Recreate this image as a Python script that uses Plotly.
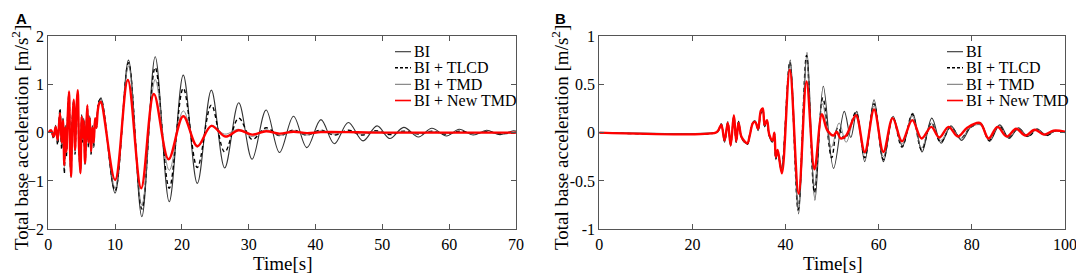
import plotly.graph_objects as go

# ---------------- Panel A data (time [s], acceleration [m/s^2]) ----------------
a_bi_t = [0, 0.4, 0.8, 1.1, 1.4, 1.75, 2.0, 2.2, 2.4, 2.55, 2.7, 2.9, 3.1, 3.25, 3.4, 3.6, 3.8, 4.0, 4.2, 4.4,
          4.6, 4.8, 5.0, 5.15, 5.3, 5.5, 5.7, 5.85, 6.0, 6.2, 6.4, 6.6, 6.8, 7.0, 7.2, 7.4, 7.6,
          7.9, 10.0, 12.0, 14.0, 16.0, 18.1, 20.2, 22.3, 24.4, 26.4, 28.5, 30.5, 32.6, 34.6, 36.7, 38.7,
          40.8, 42.8, 44.9, 47.1, 49.2, 51.1, 53.2, 55.4, 57.4, 59.6, 61.5, 63.6, 65.6, 67.6, 69.6, 70.0]
a_bi_y = [0, 0.03, -0.1, 0.15, -0.2, 0.45, -0.3, 0.3, -0.6, 0.15, -0.45, 0.35, 0.8, -0.35, -0.93, 0.25, 0.62, -0.4, 0.5, 0.85,
          -0.35, -0.8, 0.38, -0.15, 0.3, -0.6, 0.2, 0.52, -0.25, 0.35, -0.42, 0.15, -0.25, 0.25, 0.15, 0.5, 0.65,
          0.72, -1.25, 1.5, -1.74, 1.57, -1.43, 1.19, -1.05, 0.88, -0.73, 0.62, -0.55, 0.47, -0.41, 0.34, -0.31,
          0.27, -0.23, 0.21, -0.17, 0.14, -0.12, 0.11, -0.09, 0.09, -0.07, 0.07, -0.05, 0.05, -0.04, 0.04, 0.03]

a_tlcd_t = [0, 0.4, 0.8, 1.1, 1.4, 1.75, 2.0, 2.2, 2.4, 2.55, 2.7, 2.9, 3.1, 3.25, 3.4, 3.6, 3.8, 4.0, 4.2, 4.4,
            4.6, 4.8, 5.0, 5.15, 5.3, 5.5, 5.7, 5.85, 6.0, 6.2, 6.4, 6.6, 6.8, 7.0, 7.2, 7.4, 7.6,
            7.9, 10.0, 12.0, 14.0, 16.0, 18.1, 20.2, 22.3, 24.4, 26.4, 28.5, 30.5, 32.6, 34.6, 36.7, 38.7,
            40.8, 42.8, 44.9, 46.9, 49.0, 51.1, 53.2, 55.4, 57.4, 59.6, 61.5, 63.6, 65.6, 67.6, 70.0]
a_tlcd_y = [0, 0.04, -0.12, 0.1, -0.25, 0.5, -0.35, 0.28, -0.85, 0.12, -0.5, 0.4, 0.82, -0.4, -0.9, 0.3, 0.65, -0.45, 0.42, 0.8,
            -0.4, -0.78, 0.35, -0.2, 0.28, -0.65, 0.18, 0.5, -0.3, 0.32, -0.45, 0.12, -0.3, 0.28, 0.1, 0.48, 0.66,
            0.7, -1.2, 1.45, -1.58, 1.35, -1.15, 0.92, -0.72, 0.57, -0.4, 0.3, -0.14, 0.1, -0.06, 0.05, -0.05,
            0.05, -0.05, 0.05, -0.05, 0.04, -0.04, 0.03, -0.03, 0.03, -0.03, 0.03, -0.02, 0.02, -0.02, 0.0]

a_tmd_t = [0, 0.4, 0.8, 1.1, 1.4, 1.75, 2.0, 2.2, 2.4, 2.55, 2.7, 2.9, 3.1, 3.25, 3.4, 3.6, 3.8, 4.0, 4.2, 4.4,
           4.6, 4.8, 5.0, 5.15, 5.3, 5.5, 5.7, 5.85, 6.0, 6.2, 6.4, 6.6, 6.8, 7.0, 7.2, 7.4, 7.6,
           7.9, 10.0, 12.0, 14.0, 16.0, 18.1, 20.2, 22.3, 24.4, 26.4, 28.5, 30.5, 32.6, 34.6, 36.7, 38.7,
           40.8, 42.8, 44.9, 46.9, 49.0, 51.1, 53.2, 55.4, 57.4, 59.6, 61.5, 63.6, 65.6, 67.6, 70.0]
a_tmd_y = [0, 0.02, -0.08, 0.12, -0.18, 0.42, -0.25, 0.27, -0.7, 0.1, -0.42, 0.32, 0.83, -0.32, -0.9, 0.22, 0.66, -0.38, 0.46, 0.86,
           -0.32, -0.82, 0.34, -0.12, 0.27, -0.62, 0.17, 0.55, -0.22, 0.32, -0.4, 0.12, -0.22, 0.28, 0.12, 0.47, 0.62,
           0.7, -1.15, 1.38, -1.5, 1.1, -0.78, 0.45, -0.3, 0.15, -0.03, 0.07, -0.08, 0.06, -0.06, 0.04, -0.05,
           0.04, -0.03, 0.03, -0.03, 0.03, -0.02, 0.02, -0.02, 0.02, -0.02, 0.01, -0.01, 0.01, -0.01, 0.0]

a_new_t = [0, 0.4, 0.8, 1.1, 1.4, 1.75, 2.0, 2.2, 2.4, 2.55, 2.7, 2.9, 3.1, 3.25, 3.4, 3.6, 3.8, 4.0, 4.2, 4.4,
           4.6, 4.8, 5.0, 5.15, 5.3, 5.5, 5.7, 5.85, 6.0, 6.2, 6.4, 6.6, 6.8, 7.0, 7.2, 7.4, 7.6,
           7.85, 10.0, 11.9, 13.9, 15.8, 18.0, 20.2, 22.3, 24.4, 26.5, 28.5, 30.5, 32.6, 34.6, 36.7, 38.7,
           40.8, 44.9, 49.0, 55.0, 62.0, 70.0]
a_new_y = [0, 0.05, -0.08, 0.12, -0.15, 0.4, -0.2, 0.25, -0.67, 0.1, -0.39, 0.3, 0.85, -0.3, -0.91, 0.2, 0.68, -0.35, 0.45, 0.88,
           -0.3, -0.84, 0.33, -0.1, 0.25, -0.63, 0.15, 0.57, -0.2, 0.3, -0.39, 0.1, -0.2, 0.3, 0.1, 0.45, 0.6,
           0.64, -0.98, 1.09, -1.15, 0.8, -0.55, 0.34, -0.28, 0.14, -0.08, 0.05, -0.04, 0.03, -0.02, 0.02, -0.01,
           0.01, 0.01, 0.0, 0.0, 0.0, 0.0]

# ---------------- Panel B data ----------------
b_new_t = [0, 25.0, 25.5, 26.2, 26.9, 27.6, 28.2, 28.9, 29.4, 29.9, 30.5, 31.2, 31.8, 32.3, 33.0, 33.5, 34.1, 34.7,
           35.1, 35.5, 36.0, 36.5, 37.2, 37.6, 37.9, 38.3, 39.2, 40.9, 42.8, 44.5, 46.2, 47.8, 48.9, 50.3, 51.0,
           51.8, 53.0, 55.1, 57.0, 59.0, 61.0, 63.0, 65.0, 67.2, 69.2, 71.3, 73.0, 75.0, 77.0, 79.0, 81.7, 83.6,
           85.5, 87.5, 89.5, 91.5, 93.5, 95.5, 97.5, 100.0]
b_new_y = [0, 0, 0.02, 0.08, -0.08, 0.1, -0.13, 0.18, -0.09, 0.1, -0.04, -0.09, -0.11, -0.03, 0.1, 0.11, 0.04, 0.23,
           0.25, 0.08, 0.13, -0.02, -0.08, 0.0, -0.25, -0.18, -0.42, 0.65, -0.63, 0.53, -0.38, 0.19, 0.03, -0.03, 0.01,
           -0.06, -0.03, 0.18, -0.2, 0.24, -0.2, 0.15, -0.09, 0.13, -0.06, 0.06, -0.05, 0.06, -0.04, 0.05, 0.1, -0.06,
           0.06, -0.04, 0.04, -0.03, 0.03, -0.02, 0.02, 0.01]

b_bi_t = [0, 25.0, 25.5, 26.2, 26.9, 27.6, 28.2, 28.9, 29.4, 29.9, 30.5, 31.2, 31.8, 32.3, 33.0, 33.5, 34.1, 34.7,
          35.1, 35.5, 36.0, 36.5, 37.2, 37.6, 37.9, 38.3, 39.1, 41.0, 42.8, 44.6, 46.3, 48.1, 50.3, 52.6, 54.0,
          55.3, 57.0, 59.0, 61.0, 63.1, 65.1, 67.3, 69.3, 71.4, 73.4, 75.5, 77.8, 79.8, 81.9, 83.8, 86.0, 88.0,
          90.0, 92.0, 94.0, 96.0, 98.0, 100.0]
b_bi_y = [0, 0, 0.01, 0.07, -0.1, 0.09, -0.14, 0.16, -0.1, 0.12, -0.05, -0.1, -0.12, -0.04, 0.11, 0.12, 0.02, 0.2,
          0.22, 0.06, 0.12, -0.04, -0.1, -0.02, -0.28, -0.2, -0.37, 0.75, -0.84, 0.83, -0.7, 0.48, -0.37, 0.22, -0.05,
          0.22, -0.3, 0.34, -0.3, 0.17, -0.14, 0.2, -0.2, 0.15, -0.11, 0.07, -0.08, 0.06, 0.1, -0.09, 0.08, -0.06,
          0.05, -0.04, 0.04, -0.03, 0.02, 0.0]

b_tlcd_t = [0, 25.0, 25.5, 26.2, 26.9, 27.6, 28.2, 28.9, 29.4, 29.9, 30.5, 31.2, 31.8, 32.3, 33.0, 33.5, 34.1, 34.7,
            35.1, 35.5, 36.0, 36.5, 37.2, 37.6, 37.9, 38.3, 39.1, 40.9, 42.7, 44.5, 46.2, 48.0, 49.9, 51.2, 52.8,
            55.1, 57.0, 59.0, 61.0, 63.0, 65.0, 67.2, 69.2, 71.3, 73.3, 75.5, 77.6, 79.6, 81.8, 83.7, 85.8, 87.8,
            90.0, 92.0, 94.0, 96.0, 98.0, 100.0]
b_tlcd_y = [0, 0, 0.02, 0.09, -0.09, 0.11, -0.12, 0.17, -0.1, 0.11, -0.05, -0.1, -0.12, -0.02, 0.1, 0.12, 0.03, 0.21,
            0.24, 0.07, 0.12, -0.03, -0.09, -0.01, -0.27, -0.2, -0.38, 0.73, -0.8, 0.8, -0.62, 0.36, -0.26, 0.05, -0.06,
            0.21, -0.26, 0.3, -0.28, 0.16, -0.15, 0.19, -0.18, 0.1, -0.1, 0.06, -0.06, 0.05, 0.09, -0.08, 0.07, -0.05,
            0.04, -0.04, 0.03, -0.03, 0.02, 0.0]

b_tmd_t = [0, 25.0, 25.5, 26.2, 26.9, 27.6, 28.2, 28.9, 29.4, 29.9, 30.5, 31.2, 31.8, 32.3, 33.0, 33.5, 34.1, 34.7,
           35.1, 35.5, 36.0, 36.5, 37.2, 37.6, 37.9, 38.3, 39.1, 40.9, 42.7, 44.5, 46.2, 47.9, 49.8, 51.5, 53.0,
           55.0, 57.0, 59.0, 61.0, 63.0, 65.0, 67.2, 69.2, 71.3, 73.3, 75.5, 77.6, 79.6, 81.8, 83.7, 85.8, 87.8,
           90.0, 92.0, 94.0, 96.0, 98.0, 100.0]
b_tmd_y = [0, 0, 0.01, 0.08, -0.09, 0.1, -0.13, 0.17, -0.09, 0.11, -0.04, -0.1, -0.11, -0.03, 0.1, 0.11, 0.03, 0.22,
           0.23, 0.07, 0.13, -0.02, -0.09, 0.0, -0.26, -0.19, -0.4, 0.72, -0.78, 0.75, -0.55, 0.3, -0.15, 0.1, -0.1,
           0.18, -0.22, 0.28, -0.25, 0.15, -0.12, 0.17, -0.16, 0.1, -0.08, 0.06, -0.06, 0.05, 0.08, -0.07, 0.06, -0.05,
           0.04, -0.03, 0.03, -0.02, 0.02, 0.0]

series_names = ["BI", "BI + TLCD", "BI + TMD", "BI + New TMD"]
a_x_ticks = [0, 10, 20, 30, 40, 50, 60, 70]
a_y_ticks = [-2, -1, 0, 1, 2]
b_x_ticks = [0, 20, 40, 60, 80, 100]
b_y_ticks = [-1, -0.5, 0, 0.5, 1]
b_y_ticklabels = ["-1", "-0.5", "0", "0.5", "1"]

styles = [
    dict(color="#333333", width=1.1, dash="solid"),
    dict(color="#000000", width=1.4, dash="4px,3px"),
    dict(color="#6e6e6e", width=0.8, dash="solid"),
    dict(color="#ff0000", width=2.4, dash="solid"),
]

fig = go.Figure()
panelA = [(a_bi_t, a_bi_y), (a_tlcd_t, a_tlcd_y), (a_tmd_t, a_tmd_y), (a_new_t, a_new_y)]
panelB = [(b_bi_t, b_bi_y), (b_tlcd_t, b_tlcd_y), (b_tmd_t, b_tmd_y), (b_new_t, b_new_y)]
for (t, y), name, st in zip(panelA, series_names, styles):
    fig.add_trace(go.Scatter(x=t, y=y, mode="lines", name=name, showlegend=False,
                             line=dict(shape="spline", smoothing=1.0, **st), xaxis="x", yaxis="y"))
for (t, y), name, st in zip(panelB, series_names, styles):
    fig.add_trace(go.Scatter(x=t, y=y, mode="lines", name=name, showlegend=False,
                             line=dict(shape="spline", smoothing=1.0, **st), xaxis="x2", yaxis="y2"))

# The page adds an 8 px body margin; the figure is sized and placed to compensate.
OFF = 8
W, H = 1084 - OFF, 276 - OFF


def px(xp):
    return (xp - OFF) / W


def py(yp):
    return 1 - (yp - OFF) / H


ydom = [py(229.3), py(36)]
serif = "Liberation Serif, Times New Roman, serif"
axis_common = dict(showline=True, linecolor="#555555", linewidth=1, mirror="ticks", ticks="inside",
                   ticklen=5, tickcolor="#555555", showgrid=False, zeroline=False,
                   tickfont=dict(family=serif, size=16, color="#000"), automargin=False)

fig.update_layout(
    width=W, height=H, margin=dict(l=0, r=0, t=0, b=0),
    paper_bgcolor="white", plot_bgcolor="white", showlegend=False,
    xaxis=dict(domain=[px(48.3), px(516)], range=[0, 70], tickvals=a_x_ticks, anchor="y", **axis_common),
    yaxis=dict(domain=ydom, range=[-2, 2], tickvals=a_y_ticks, anchor="x", **axis_common),
    xaxis2=dict(domain=[px(599.3), px(1065)], range=[0, 100], tickvals=b_x_ticks, anchor="y2", **axis_common),
    yaxis2=dict(domain=ydom, range=[-1, 1], tickvals=b_y_ticks, ticktext=b_y_ticklabels, anchor="x2", **axis_common),
)

title_font = dict(family=serif, size=19, color="#000")
# axis titles
for xc in (282, 832):
    fig.add_annotation(text="Time[s]", x=px(xc), y=py(263), xref="paper", yref="paper", xanchor="center",
                       yanchor="middle", showarrow=False, font=title_font)
for xc in (20, 560):
    fig.add_annotation(text="Total base acceleration [m/s<sup>2</sup>]", x=px(xc), y=py(138), xref="paper",
                       yref="paper", xanchor="center", yanchor="middle", textangle=-90, showarrow=False,
                       font=title_font)

# panel letters
letter_font = dict(family="Liberation Sans, Arial", size=15, color="#000")
fig.add_annotation(text="<b>A</b>", x=px(14), y=py(8), xref="paper", yref="paper", xanchor="left", yanchor="top",
                   showarrow=False, font=letter_font)
fig.add_annotation(text="<b>B</b>", x=px(553), y=py(8), xref="paper", yref="paper", xanchor="left", yanchor="top",
                   showarrow=False, font=letter_font)

# custom legends (drawn in paper coordinates)
legend_rows_y = [51.7, 67.7, 84.3, 100.5]
for (x0, x1) in [(395, 411), (947, 963)]:
    for name, st, ry in zip(series_names, styles, legend_rows_y):
        fig.add_shape(type="line", xref="paper", yref="paper", x0=px(x0), x1=px(x1), y0=py(ry), y1=py(ry),
                      line=dict(color=st["color"], width=max(st["width"], 1.0) if st["color"] != "#ff0000" else 1.6,
                                dash=st["dash"] if st["dash"] == "solid" else "3px,2px"))
        fig.add_annotation(text=name, x=px(x1 + 1), y=py(ry), xref="paper", yref="paper", xanchor="left",
                           yanchor="middle", showarrow=False, font=dict(family=serif, size=16, color="#000"))

fig.write_html("out.html")
